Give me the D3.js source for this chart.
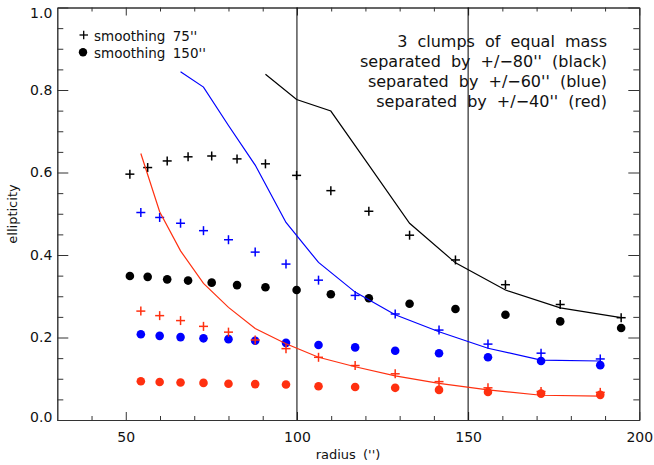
<!DOCTYPE html>
<html>
<head>
<meta charset="utf-8">
<script src="https://cdn.jsdelivr.net/npm/d3@7"></script>
<style>
  html, body { margin: 0; padding: 0; background: #fff; }
  svg { display: block; }
  text { font-family: "DejaVu Sans", sans-serif; fill: #111; }
</style>
</head>
<body>
<svg id="chart" width="654" height="465"></svg>
<script>
// ---- data ----
const radiiBlack = [51.2, 56.4, 62.1, 68.2, 75.1, 82.5, 90.8, 99.9, 109.9, 121.0, 132.9, 146.3, 160.9, 176.9, 194.7];
const radiiBlueRed = [54.4, 59.9, 66.0, 72.7, 80.0, 87.8, 96.8, 106.3, 117.0, 128.7, 141.5, 155.8, 171.3, 188.6];

const black75  = [0.596, 0.612, 0.628, 0.638, 0.640, 0.633, 0.621, 0.593, 0.556, 0.506, 0.448, 0.388, 0.328, 0.280, 0.248];
const black150 = [0.349, 0.347, 0.341, 0.338, 0.333, 0.327, 0.322, 0.315, 0.305, 0.295, 0.282, 0.269, 0.255, 0.239, 0.223];
const blackModel = [null, null, null, null, null, null, 0.838, 0.777, 0.749, 0.618, 0.477, 0.381, 0.315, 0.272, 0.248];

const blue75  = [0.503, 0.491, 0.477, 0.459, 0.437, 0.407, 0.378, 0.339, 0.302, 0.257, 0.218, 0.184, 0.162, 0.148];
const blue150 = [0.208, 0.204, 0.201, 0.198, 0.196, 0.192, 0.187, 0.182, 0.176, 0.168, 0.162, 0.152, 0.143, 0.133];
const blueModel = [null, null, 0.844, 0.807, 0.714, 0.618, 0.479, 0.382, 0.310, 0.255, 0.214, 0.174, 0.145, 0.143];

const red75  = [0.264, 0.253, 0.241, 0.227, 0.213, 0.194, 0.173, 0.152, 0.132, 0.112, 0.093, 0.078, 0.069, 0.067];
const red150 = [0.094, 0.092, 0.091, 0.090, 0.088, 0.087, 0.086, 0.082, 0.080, 0.078, 0.073, 0.068, 0.064, 0.061];
const redModel = [0.646, 0.505, 0.410, 0.331, 0.273, 0.222, 0.185, 0.152, 0.129, 0.107, 0.089, 0.073, 0.060, 0.058];

const xMajorTicks = [50, 100, 150, 200];
const xMinorTicks = [40, 60, 70, 80, 90, 110, 120, 130, 140, 160, 170, 180, 190];
const yMajorTicks = [0.0, 0.2, 0.4, 0.6, 0.8, 1.0];
const yMinorTicks = [0.05, 0.10, 0.15, 0.25, 0.30, 0.35, 0.45, 0.50, 0.55, 0.65, 0.70, 0.75, 0.85, 0.90, 0.95];
const refLines = [100, 150];

const legendLabels = ["smoothing  75''", "smoothing  150''"];
const noteLines = ["3 clumps of equal mass", "separated by +/−80'' (black)", "separated by +/−60'' (blue)", "separated by +/−40'' (red)"];

const BLACK = "#000000", BLUE = "#0000ff", RED = "#ff3010";

// ---- layout ----
const svg = d3.select("#chart");
const x = d3.scaleLinear().domain([30, 200]).range([57.3, 639.3]);
const y = d3.scaleLinear().domain([0, 1]).range([420, 7.5]);
const [x0, x1] = x.range();
const [y0, y1] = y.range();

const axisColor = "#333";
function styleAxis(g) {
  g.selectAll("path.domain").attr("stroke", axisColor).attr("stroke-width", 1);
  g.selectAll(".tick line").attr("stroke", axisColor).attr("stroke-width", 1);
  g.selectAll(".tick text").attr("font-family", "DejaVu Sans").attr("font-size", 14).attr("fill", "#111");
}

// bottom
svg.append("g").attr("transform", `translate(0,${y0})`)
  .call(d3.axisBottom(x).tickValues(xMajorTicks).tickFormat(d3.format("d")).tickSize(-8).tickSizeOuter(0).tickPadding(12))
  .call(styleAxis);
svg.append("g").attr("transform", `translate(0,${y0})`)
  .call(d3.axisBottom(x).tickValues(xMinorTicks).tickFormat("").tickSize(-4).tickSizeOuter(0))
  .call(styleAxis);
// top
svg.append("g").attr("transform", `translate(0,${y1})`)
  .call(d3.axisTop(x).tickValues(xMajorTicks).tickFormat("").tickSize(-8).tickSizeOuter(0))
  .call(styleAxis);
svg.append("g").attr("transform", `translate(0,${y1})`)
  .call(d3.axisTop(x).tickValues(xMinorTicks).tickFormat("").tickSize(-4).tickSizeOuter(0))
  .call(styleAxis);
// left
const leftAxis = svg.append("g").attr("transform", `translate(${x0},0)`)
  .call(d3.axisLeft(y).tickValues(yMajorTicks).tickFormat(d3.format(".1f")).tickSize(-11).tickSizeOuter(0).tickPadding(5))
  .call(styleAxis);
// pull the end labels slightly inward as in the reference
leftAxis.selectAll(".tick text").attr("dy", d => d === 1 ? "0.7em" : (d === 0 ? "0.1em" : "0.32em"));
svg.append("g").attr("transform", `translate(${x0},0)`)
  .call(d3.axisLeft(y).tickValues(yMinorTicks).tickFormat("").tickSize(-6).tickSizeOuter(0))
  .call(styleAxis);
// right
svg.append("g").attr("transform", `translate(${x1},0)`)
  .call(d3.axisRight(y).tickValues(yMajorTicks).tickFormat("").tickSize(-11).tickSizeOuter(0))
  .call(styleAxis);
svg.append("g").attr("transform", `translate(${x1},0)`)
  .call(d3.axisRight(y).tickValues(yMinorTicks).tickFormat("").tickSize(-6).tickSizeOuter(0))
  .call(styleAxis);

// axis titles
svg.append("text").attr("x", 348).attr("y", 459).attr("text-anchor", "middle")
  .attr("font-size", 13).attr("word-spacing", 3).text("radius ('')");
svg.append("text").attr("transform", "translate(17,214) rotate(-90)").attr("text-anchor", "middle")
  .attr("font-size", 13).text("ellipticity");

// vertical reference lines
svg.append("g").selectAll("line").data(refLines).join("line")
  .attr("x1", d => x(d)).attr("x2", d => x(d)).attr("y1", y0).attr("y2", y1)
  .attr("stroke", "#000").attr("stroke-width", 1);

// ---- marks ----
const line = d3.line().defined(d => d[1] != null).x(d => x(d[0])).y(d => y(d[1]));
const plot = svg.append("g");

function crosses(radii, vals, color) {
  const h = 4.5;
  const g = plot.append("g").attr("stroke", color).attr("stroke-width", 1.5);
  radii.forEach((r, i) => {
    const cx = x(r), cy = y(vals[i]);
    g.append("line").attr("x1", cx - h).attr("x2", cx + h).attr("y1", cy).attr("y2", cy);
    g.append("line").attr("x1", cx).attr("x2", cx).attr("y1", cy - h).attr("y2", cy + h);
  });
}
function dots(radii, vals, color) {
  plot.append("g").selectAll("circle").data(radii).join("circle")
    .attr("cx", d => x(d)).attr("cy", (d, i) => y(vals[i])).attr("r", 4.3).attr("fill", color);
}
function model(radii, vals, color) {
  plot.append("path").datum(radii.map((r, i) => [r, vals[i]]))
    .attr("d", line).attr("fill", "none").attr("stroke", color).attr("stroke-width", 1.2);
}

crosses(radiiBlack, black75, BLACK);
dots(radiiBlack, black150, BLACK);
model(radiiBlack, blackModel, BLACK);
crosses(radiiBlueRed, blue75, BLUE);
dots(radiiBlueRed, blue150, BLUE);
model(radiiBlueRed, blueModel, BLUE);
crosses(radiiBlueRed, red75, RED);
dots(radiiBlueRed, red150, RED);
model(radiiBlueRed, redModel, RED);

// ---- legend ----
const leg = svg.append("g");
leg.append("line").attr("x1", 79.5).attr("x2", 88).attr("y1", 35).attr("y2", 35).attr("stroke", "#000").attr("stroke-width", 1.3);
leg.append("line").attr("x1", 83.7).attr("x2", 83.7).attr("y1", 30.8).attr("y2", 39.2).attr("stroke", "#000").attr("stroke-width", 1.3);
leg.append("circle").attr("cx", 83).attr("cy", 52.3).attr("r", 4.2).attr("fill", "#000");
leg.selectAll("text").data(legendLabels).join("text")
  .attr("x", 94).attr("y", (d, i) => 40.5 + i * 17.5)
  .attr("font-size", 13.5).attr("word-spacing", 3).text(d => d);

// ---- annotation ----
svg.append("g").selectAll("text").data(noteLines).join("text")
  .attr("x", 607).attr("y", (d, i) => 46.7 + i * 20)
  .attr("text-anchor", "end").attr("font-size", 16).attr("word-spacing", 5).text(d => d);
</script>
</body>
</html>
